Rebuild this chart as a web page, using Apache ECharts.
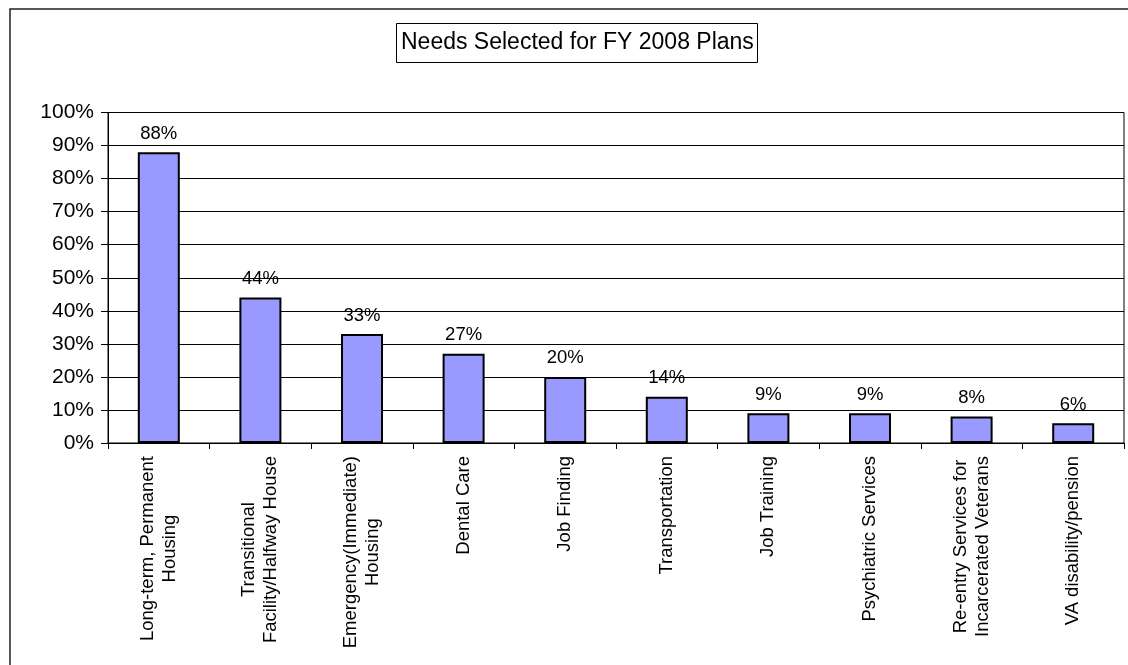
<!DOCTYPE html>
<html>
<head>
<meta charset="utf-8">
<script src="https://cdn.jsdelivr.net/npm/echarts@6/dist/echarts.min.js"></script>
<style>
html,body{margin:0;padding:0;background:#fff;}
#chart{width:1128px;height:665px;}
</style>
</head>
<body>
<div id="chart"></div>
<script>
var titleText = 'Needs Selected for FY 2008 Plans';
var categories = [
  'Long-term, Permanent\nHousing',
  'Transitional\nFacility/Halfway House',
  'Emergency(Immediate)\nHousing',
  'Dental Care',
  'Job Finding',
  'Transportation',
  'Job Training',
  'Psychiatric Services',
  'Re-entry Services for\nIncarcerated Veterans',
  'VA disability/pension'
];
var values = [88, 44, 33, 27, 20, 14, 9, 9, 8, 6];
var yTicks = [0, 10, 20, 30, 40, 50, 60, 70, 80, 90, 100];

var FONT = '"Liberation Sans", Arial, sans-serif';
var chart = echarts.init(document.getElementById('chart'), null, {renderer: 'canvas'});
chart.setOption({
  backgroundColor: '#fff',
  animation: false,
  graphic: [{
    type: 'rect',
    shape: {x: 10, y: 9, width: 1140, height: 680},
    style: {fill: 'none', stroke: '#222', lineWidth: 1.5},
    silent: true,
    z: -1
  }],
  title: {
    text: titleText,
    left: 396,
    top: 23,
    padding: [7, 4, 7, 5],
    borderColor: '#000',
    borderWidth: 1,
    textStyle: {fontFamily: FONT, fontSize: 23, fontWeight: 'normal', color: '#000', lineHeight: 26}
  },
  grid: {
    left: 108, right: 4, top: 112.5, bottom: 222,
    show: true, borderColor: '#000', borderWidth: 1, backgroundColor: 'transparent'
  },
  xAxis: {
    type: 'category',
    data: categories,
    boundaryGap: true,
    axisLine: {show: true, lineStyle: {color: '#000', width: 1}},
    axisTick: {show: true, length: 6, lineStyle: {color: '#000'}, alignWithLabel: false},
    axisLabel: {
      rotate: 90,
      interval: 0,
      margin: 13,
      color: '#000',
      fontFamily: FONT,
      fontSize: 18.5,
      lineHeight: 22,
      formatter: function (v) {
        return v.split('\n').map(function (s) { return '{c|' + s + '}'; }).join('\n');
      },
      rich: {c: {align: 'center', fontFamily: FONT, fontSize: 18.5, lineHeight: 22, color: '#000'}}
    },
    splitLine: {show: false}
  },
  yAxis: {
    type: 'value',
    min: yTicks[0],
    max: yTicks[yTicks.length - 1],
    interval: 10,
    axisLine: {show: true, lineStyle: {color: '#000', width: 1}},
    axisTick: {show: true, inside: false, length: 7, lineStyle: {color: '#000'}},
    axisLabel: {
      color: '#000', fontFamily: FONT, fontSize: 21, margin: 14,
      formatter: function (v) { return v + '%'; }
    },
    splitLine: {show: true, lineStyle: {color: '#000', width: 1}}
  },
  series: [{
    type: 'bar',
    data: values,
    barWidth: 42,
    itemStyle: {color: '#9999FF', borderColor: '#000', borderWidth: 2},
    label: {
      show: true,
      position: 'top',
      distance: 9,
      color: '#000',
      fontFamily: FONT,
      fontSize: 18.5,
      formatter: function (p) { return p.value + '%'; }
    }
  }]
});
</script>
</body>
</html>
